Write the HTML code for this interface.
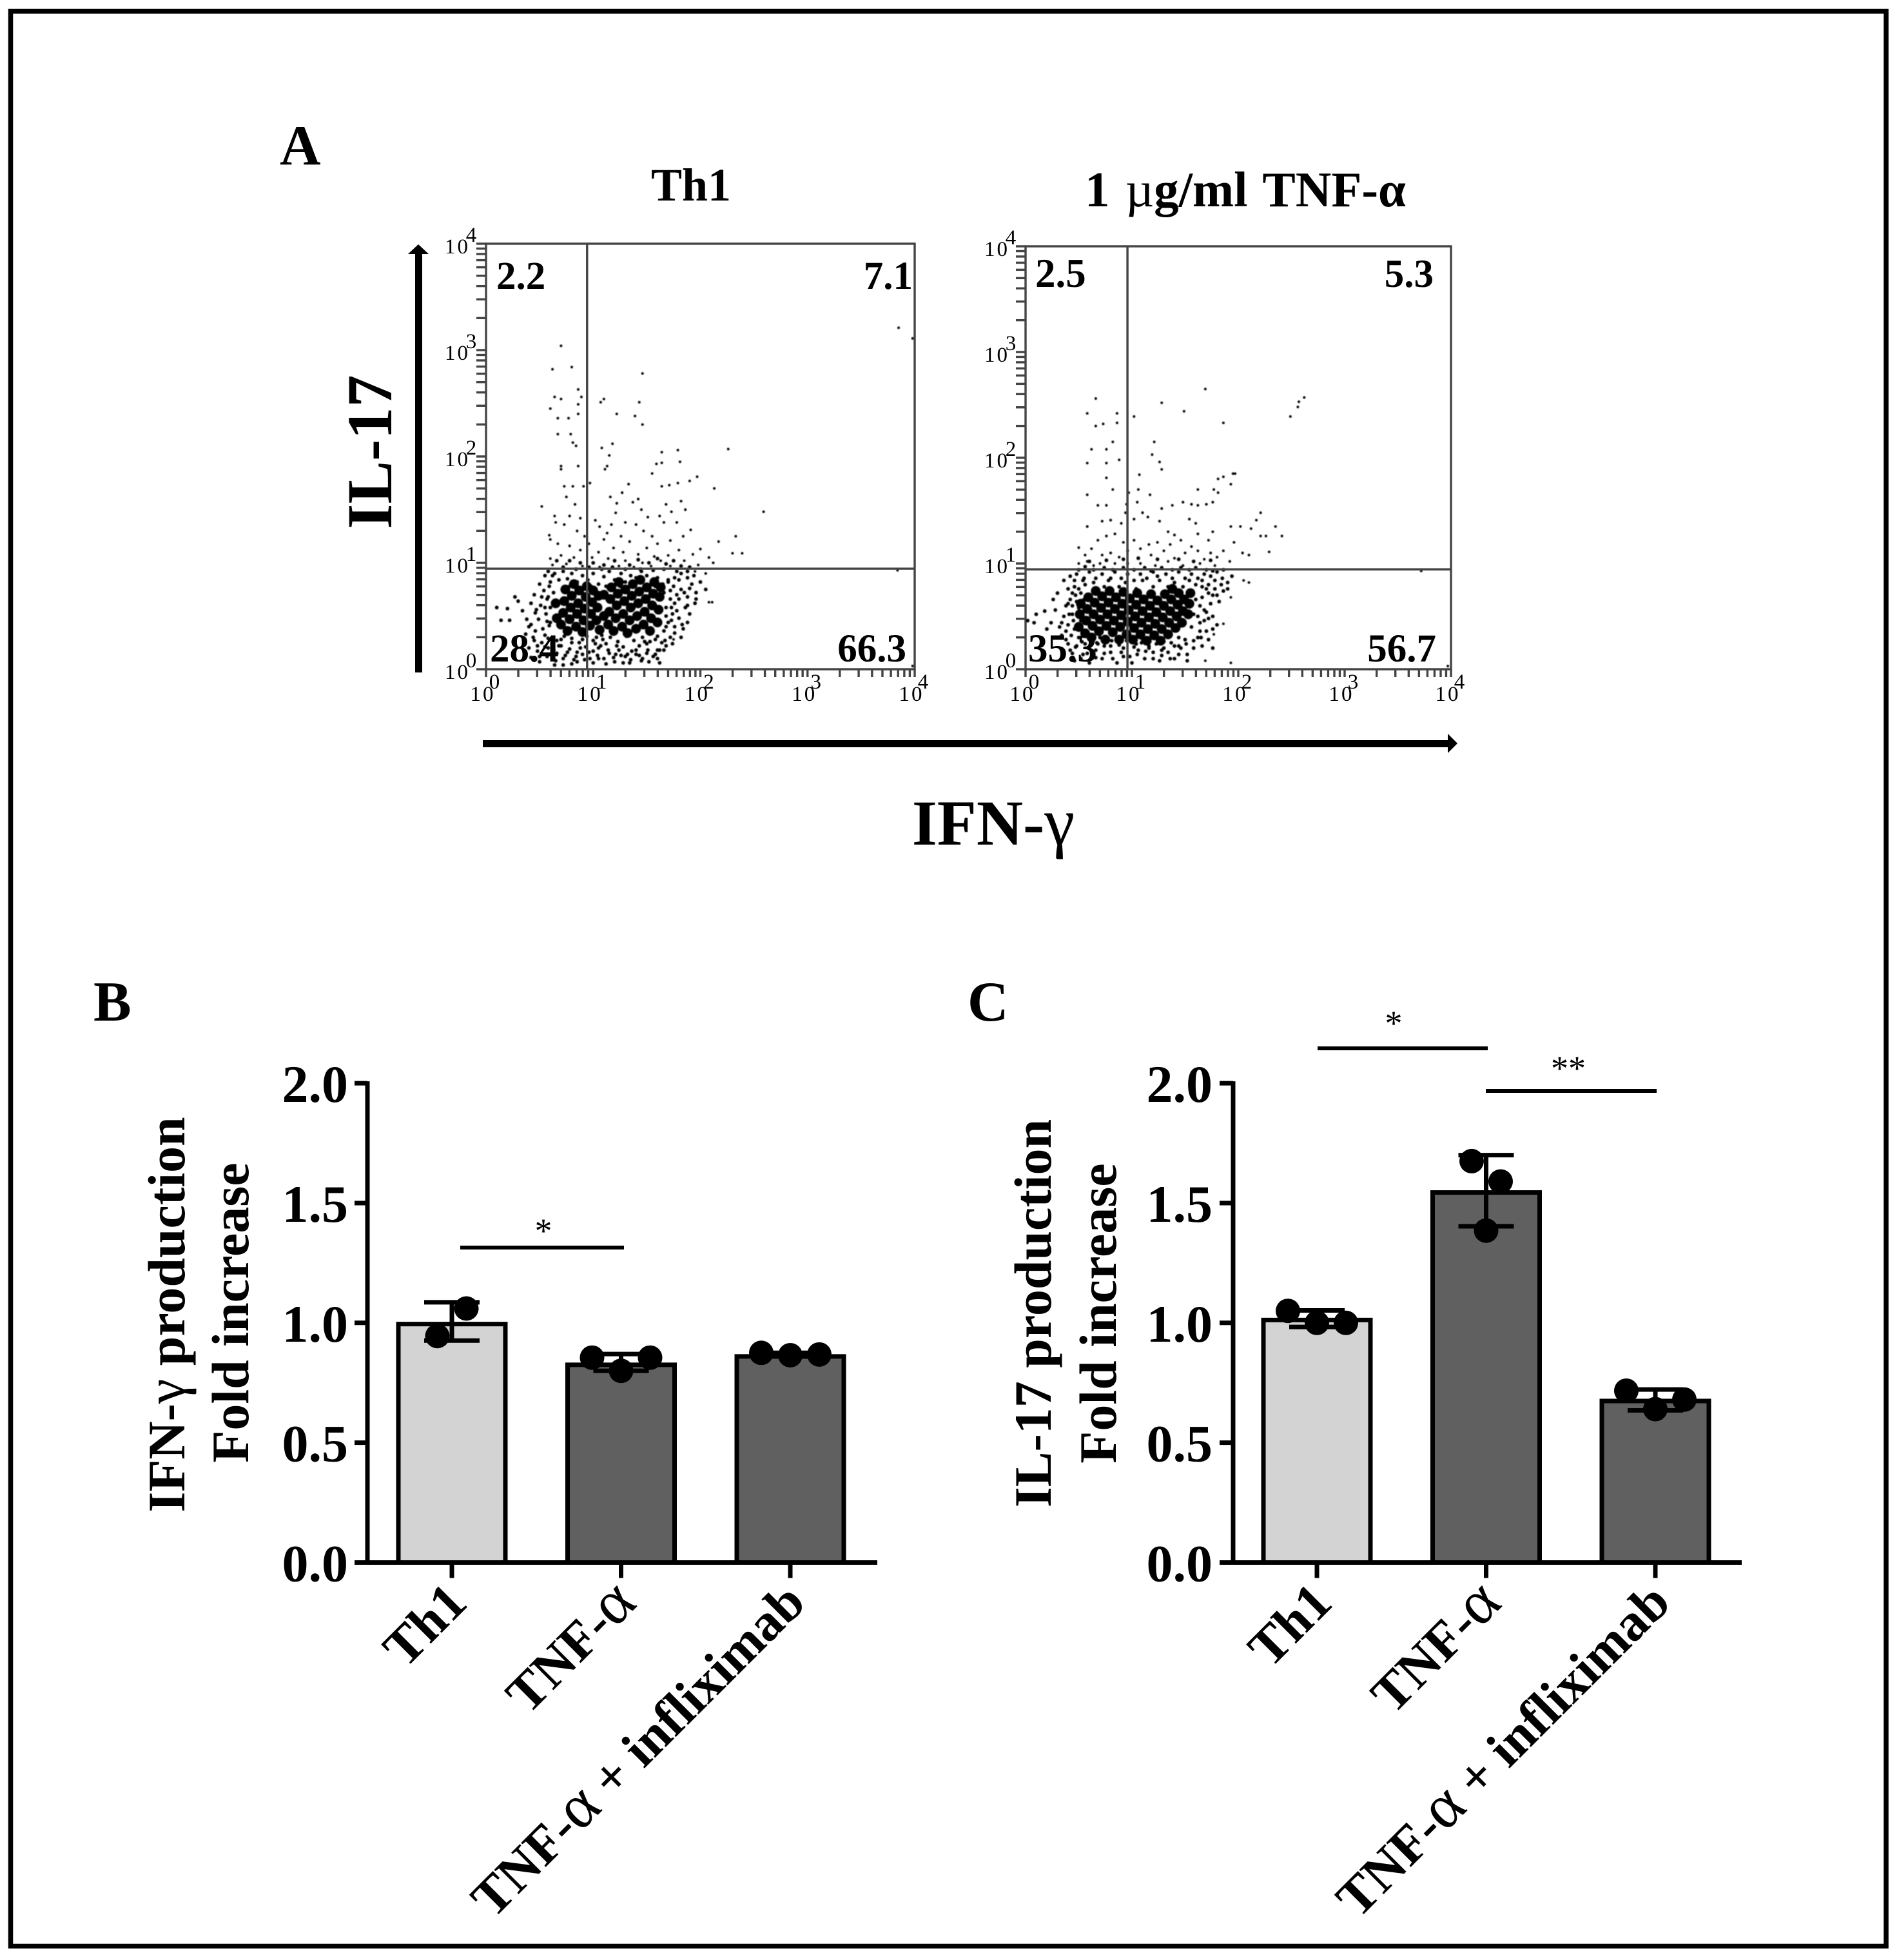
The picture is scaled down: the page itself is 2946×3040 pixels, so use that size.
<!DOCTYPE html>
<html lang="en">
<head>
<meta charset="utf-8">
<title>IFN-γ and IL-17 production in Th1 cells with TNF-α</title>
<style>
html,body{margin:0;padding:0;background:#fff;}
svg{display:block;}
text{font-family:"Liberation Serif",serif;fill:#000;}
.b{font-weight:bold;}
.g{font-weight:normal;font-size:1.2em;}
.h{font-weight:normal;font-size:1.06em;}
</style>
</head>
<body>
<svg id="figure" xmlns="http://www.w3.org/2000/svg" width="2946" height="3040" viewBox="0 0 2946 3040">
<defs><filter id="soft" x="-5%" y="-5%" width="110%" height="110%"><feGaussianBlur stdDeviation="0.7"/></filter></defs>
<rect x="0" y="0" width="2946" height="3040" fill="#fff"/>
<rect x="16.5" y="17.5" width="2909.5" height="3001" fill="none" stroke="#000" stroke-width="7.5"/>

<text class="b" x="434" y="255" font-size="88">A</text>
<text class="b" x="145" y="1583" font-size="88">B</text>
<text class="b" x="1501" y="1583" font-size="88">C</text>

<text class="b" x="1072" y="311" font-size="72" text-anchor="middle">Th1</text>
<text class="b" x="1932" y="320" font-size="77" text-anchor="middle" word-spacing="5">1 <tspan font-weight="normal">µ</tspan>g/ml TNF-α</text>

<text class="b" transform="translate(607,701) rotate(-90)" font-size="100" text-anchor="middle">IL-17</text>
<text class="b" x="1541" y="1310" font-size="100" text-anchor="middle">IFN-<tspan class="h">γ</tspan></text>

<g>
<rect x="644" y="392" width="11" height="651" fill="#000"/>
<polygon points="633,394 649,379 665,394" fill="#000"/>
</g>
<g>
<rect x="749" y="1148" width="1502" height="11" fill="#000"/>
<polygon points="2246,1138 2261,1153 2246,1168" fill="#000"/>
</g>

<g id="flow-th1"></g>
<g id="flow-tnf"></g>

<text class="b" x="770" y="448" font-size="61">2.2</text>
<text class="b" x="1416" y="448" font-size="61" text-anchor="end">7.1</text>
<text class="b" x="760" y="1026" font-size="61">28.4</text>
<text class="b" x="1406" y="1026" font-size="61" text-anchor="end">66.3</text>
<text class="b" x="1606" y="445" font-size="63">2.5</text>
<text class="b" x="2224" y="445" font-size="61" text-anchor="end">5.3</text>
<text class="b" x="1595" y="1026" font-size="61">35.3</text>
<text class="b" x="2228" y="1026" font-size="61" text-anchor="end">56.7</text>

<text class="b" transform="translate(286,2039) rotate(-90)" font-size="82" text-anchor="middle">IFN-<tspan class="h">γ</tspan> production</text>
<text class="b" transform="translate(385,2036) rotate(-90)" font-size="82" text-anchor="middle">Fold increase</text>
<text class="b" transform="translate(1630,2037) rotate(-90)" font-size="82" text-anchor="middle">IL-17 production</text>
<text class="b" transform="translate(1731,2037) rotate(-90)" font-size="82" text-anchor="middle">Fold increase</text>

<g id="chart-b"></g>
<g id="chart-c"></g>
</svg>

<script>
/* ---------- Bar chart data ---------- */
const categories = ['Th1', 'TNF-α', 'TNF-α + infliximab'];
const yTickValues = [0, 0.5, 1, 1.5, 2];
const yTickLabels = ['0.0', '0.5', '1.0', '1.5', '2.0'];

const ifnMeans = [0.995, 0.825, 0.86];
const ifnErrorHigh = [1.086, 0.87, 0.875];
const ifnErrorLow = [0.926, 0.80, 0.86];
const ifnPoints = [[0.945, 1.06], [0.855, 0.80, 0.855], [0.875, 0.865, 0.868]];

const il17Means = [1.012, 1.544, 0.674];
const il17ErrorHigh = [1.052, 1.70, 0.722];
const il17ErrorLow = [0.983, 1.403, 0.635];
const il17Points = [[1.05, 1.0, 1.0], [1.675, 1.59, 1.385], [0.717, 0.64, 0.68]];

/* ---------- Flow cytometry data: [log10 IFN-γ, log10 IL-17] per event ---------- */
const logDecades = [0, 1, 2, 3, 4];
const th1Gate = [0.943, 0.945];
const tnfGate = [0.958, 0.945];

const th1Sparse = [[.70,3.04],[.62,2.82],[.80,2.84],[.86,2.63],[.64,2.56],[.70,2.54],[.89,2.56],[.86,2.49],[.60,2.45],[.86,2.40],[.67,2.36],[.77,2.36],[.67,2.21],[.79,2.21],[.81,2.13],[.84,2.10],[.70,1.91],[.86,1.91],[.70,1.88],[.73,1.72],[.81,1.72],[.91,1.72],[.97,1.75],[1.46,2.78],[1.10,2.54],[1.07,2.51],[1.43,2.51],[1.22,2.40],[1.39,2.38],[1.46,2.30],[1.18,2.12],[1.08,2.08],[1.15,2.01],[1.13,1.91],[1.11,1.88],[1.64,2.04],[1.79,2.06],[1.81,1.95],[1.64,1.94],[1.59,1.93],[2.26,2.07],[1.55,1.84],[1.97,1.81],[1.90,1.77],[1.79,1.75],[1.71,1.73],[1.64,1.72],[2.13,1.70],[2.59,1.48],[2.33,1.25],[2.39,1.09],[2.30,1.09],[2.17,1.20],[3.85,3.21],[3.98,3.11],[.52,1.53],[.64,1.44],[.65,1.38],[.59,1.26],[.60,1.22],[2.08,.63],[2.11,.63],[1.75,.28],[3.84,.93],[3.98,.03]];
const th1Upper = [[.75,1.62],[.83,1.55],[.88,1.42],[.78,1.44],[.73,1.36],[.85,1.30],[.92,1.25],[.67,1.18],[.78,1.16],[.88,1.12],[.96,1.18],[1.02,1.40],[1.06,1.34],[1.10,1.22],[1.13,1.28],[1.17,1.36],[1.16,1.62],[1.22,1.56],[1.27,1.66],[1.33,1.74],[1.21,1.47],[1.30,1.38],[1.37,1.57],[1.42,1.60],[1.45,1.50],[1.51,1.43],[1.40,1.36],[1.47,1.30],[1.55,1.25],[1.62,1.44],[1.66,1.38],[1.68,1.55],[1.73,1.48],[1.82,1.58],[1.86,1.50],[1.78,1.38],[1.84,1.25],[1.91,1.31],[1.72,1.21],[1.60,1.18],[1.50,1.14],[1.34,1.20],[1.26,1.25],[1.19,1.14],[1.05,1.10],[1.28,1.10],[1.42,1.08],[1.57,1.06],[1.70,1.07],[1.80,1.12],[1.93,1.08],[2.00,1.13],[2.08,1.05],[2.12,1.00],[1.98,.98],[1.85,1.02],[1.63,1.02],[1.46,1.00],[1.30,1.02],[1.14,1.04],[.99,1.05],[.82,1.05],[.70,1.07],[.60,1.04],[.62,.98],[.75,.99],[.90,.97],[1.06,.96],[1.24,.97],[1.38,.96],[1.54,.97],[1.72,.97],[1.95,.92],[2.05,.90]];
const th1Halo = [[.10,.58],[.20,.57],[.14,.46],[.27,.68],[.30,.64],[.22,.46],[.34,.55],[.38,.47],[.40,.40],[.42,.62],[.45,.70],[.37,.33],[.44,.30],[.48,.22],[.50,.12],[.46,.53],[.50,.80],[.55,.88],[.52,.68],[.55,.58],[.57,.45],[.55,.32],[.58,.20],[.62,.10],[.64,.04],[.60,.82],[.64,.90],[.68,.84],[.72,.92],[.76,.85],[.80,.90],[.85,.82],[.90,.88],[.95,.84],[1.00,.90],[1.05,.80],[1.10,.87],[1.15,.92],[1.20,.84],[1.26,.90],[1.30,.82],[1.35,.88],[1.40,.86],[1.45,.92],[1.50,.88],[1.55,.82],[1.60,.86],[1.65,.80],[1.70,.84],[1.75,.78],[1.78,.70],[1.72,.66],[1.68,.58],[1.74,.52],[1.70,.44],[1.66,.36],[1.72,.30],[1.64,.25],[1.60,.18],[1.56,.12],[1.62,.06],[1.50,.15],[1.45,.08],[1.40,.14],[1.34,.06],[1.30,.12],[1.24,.18],[1.20,.07],[1.15,.15],[1.10,.10],[1.05,.20],[1.00,.06],[.96,.16],[.92,.09],[.88,.20],[.84,.12],[.80,.05],[.76,.16],[.72,.10],[.68,.22],[.66,.15],[.70,.28],[.80,.25],[.90,.28],[1.00,.27],[1.08,.32],[1.12,.24],[1.22,.22],[1.32,.14],[1.40,.18],[1.50,.24],[1.58,.28],[1.68,.50],[1.76,.62],[1.82,.75],[1.88,.68],[1.92,.80],[1.96,.72],[1.86,.58],[1.80,.48],[1.76,.40],[1.84,.38],[1.90,.52],[1.95,.62],[2.00,.82],[2.05,.75],[.58,.68],[.60,.58],[.63,.72],[.60,.44],[.62,.24],[1.04,.72],[1.06,.38],[1.03,.30],[.98,.78],[.90,.76],[.78,.78],[1.12,.78],[1.25,.78],[1.38,.80],[1.48,.26],[1.62,.18],[1.68,.22],[1.58,.78],[1.66,.72],[1.72,.74],[1.80,.84],[1.88,.86],[1.94,.88],[1.46,.10],[1.28,.06],[1.05,.10],[.85,.07],[.72,.04]];
const th1Extra = [[.45,.27],[.52,.25],[.58,.29],[.66,.27],[.73,.31],[.80,.29],[.87,.25],[.94,.31],[1.02,.24],[1.09,.28],[1.16,.30],[1.23,.26],[1.31,.31],[1.38,.27],[1.46,.30],[1.53,.26],[1.60,.31],[1.67,.27],[1.74,.24],[.40,.20],[.48,.17],[.55,.21],[.63,.18],[.70,.22],[.78,.19],[.85,.16],[.93,.21],[1.0,.17],[1.07,.22],[1.14,.18],[1.21,.14],[1.28,.21],[1.36,.17],[1.43,.22],[1.51,.18],[1.58,.14],[1.66,.18],[.42,.11],[.50,.07],[.57,.12],[.65,.08],[.74,.13],[.82,.09],[.90,.14],[.97,.10],[1.04,.13],[1.12,.05],[1.19,.11],[1.26,.13],[1.35,.09],[1.43,.13],[1.52,.07],[1.60,.10],[.42,.42],[.46,.36],[.49,.47],[.53,.38],[.56,.52],[.59,.41],[.47,.56],[.51,.60],[.57,.66],[.54,.74],[.59,.78],[.62,.88],[.58,.92],[1.68,.40],[1.73,.46],[1.78,.55],[1.83,.42],[1.88,.60],[1.73,.58],[1.80,.66],[1.85,.72],[1.70,.82],[1.76,.86],[1.82,.90],[1.90,.76],[1.96,.66],[1.76,.34],[1.82,.30],[1.88,.44],[.66,1.02],[.78,1.02],[.88,1.0],[1.0,1.0],[1.1,.98],[1.2,1.02],[1.34,.98],[1.42,1.03],[1.52,1.0],[1.6,1.04],[1.68,.99],[1.75,1.02],[1.82,.97],[1.9,.96],[.72,.96],[.84,.94],[.96,.96],[1.08,.94],[1.18,.96],[1.3,.94],[1.44,.94],[1.56,.93],[1.66,.94],[1.78,.92],[1.88,.92]];
const th1Core = [[.70,.42],[.72,.53],[.73,.64],[.74,.75],[.76,.36],[.78,.47],[.79,.58],[.80,.69],[.82,.80],[.84,.40],[.85,.52],[.86,.62],[.87,.74],[.90,.35],[.91,.46],[.92,.57],[.93,.68],[.94,.78],[.97,.41],[.98,.52],[.99,.63],[1.0,.74],[1.03,.46],[1.04,.58],[1.05,.69],[1.06,.37],[1.14,.42],[1.15,.54],[1.16,.66],[1.17,.77],[1.19,.36],[1.21,.48],[1.22,.60],[1.23,.71],[1.24,.82],[1.27,.40],[1.28,.52],[1.29,.64],[1.30,.75],[1.32,.34],[1.34,.46],[1.35,.58],[1.36,.69],[1.37,.80],[1.40,.38],[1.41,.50],[1.42,.62],[1.43,.73],[1.44,.84],[1.47,.42],[1.48,.54],[1.49,.66],[1.50,.77],[1.53,.36],[1.54,.48],[1.55,.60],[1.56,.71],[1.57,.82],[1.60,.44],[1.61,.56],[1.62,.68],[1.63,.77],[.66,.48],[.65,.62],[1.1,.50],[1.1,.70]];

const tnfSparse = [[.66,2.56],[.58,2.42],[.86,2.42],[.86,2.33],[.66,2.30],[.73,2.32],[1.02,2.39],[1.28,2.52],[1.49,2.44],[1.69,2.65],[1.86,2.33],[2.49,2.39],[2.57,2.53],[2.62,2.57],[2.56,2.48],[.82,2.15],[.62,2.08],[.76,2.08],[.58,1.95],[.76,1.95],[.88,1.98],[1.21,2.15],[1.19,2.03],[1.26,1.96],[1.28,1.89],[1.07,1.84],[.76,1.81],[.82,1.70],[.58,1.65],[.97,1.67],[1.06,1.70],[1.17,1.65],[1.62,1.70],[1.77,1.70],[1.81,1.67],[1.81,1.80],[1.86,1.82],[1.95,1.85],[1.97,1.85],[1.93,1.75],[2.21,1.48],[2.17,1.41],[2.35,1.35],[2.41,1.26],[2.29,1.11],[2.26,1.26],[2.21,1.26],[2.12,1.33],[2.02,1.35],[1.93,1.35],[2.05,.84],[2.10,.82],[1.93,.68],[1.93,.06],[1.69,.08],[1.86,.43],[1.77,.33],[3.97,.03],[3.72,.93]];
const tnfUpper = [[.68,1.55],[.76,1.55],[.95,1.56],[1.05,1.58],[1.38,1.55],[1.48,1.58],[1.56,1.56],[1.62,1.55],[1.70,1.56],[1.76,1.58],[.72,1.40],[.80,1.41],[.90,1.38],[.58,1.35],[.94,1.48],[1.02,1.42],[1.10,1.48],[1.15,1.44],[1.26,1.40],[1.28,1.52],[1.34,1.30],[1.40,1.27],[1.46,1.22],[1.54,1.42],[1.60,1.38],[1.62,1.28],[1.72,1.22],[1.76,1.30],[.68,1.22],[.76,1.26],[.84,1.28],[.92,1.20],[.50,1.15],[.56,1.08],[.62,1.14],[.72,1.08],[.80,1.10],[.88,1.06],[.96,1.12],[1.02,1.22],[1.08,1.14],[1.16,1.18],[1.18,1.08],[1.24,1.20],[1.30,1.12],[1.36,1.18],[1.40,1.05],[1.50,1.10],[1.56,1.16],[1.62,1.12],[1.68,1.04],[1.74,1.10],[1.80,1.06],[1.86,1.12],[1.96,1.20],[2.04,1.10],[2.10,1.08],[1.92,1.02],[1.78,.98],[1.64,1.00],[1.48,.98],[1.34,1.02],[1.22,.98],[1.08,1.00],[.96,1.00],[.84,1.00],[.70,1.00],[.58,1.02],[.50,1.00],[.64,.98]];
const tnfHalo = [[.02,.46],[.08,.44],[.10,.52],[.18,.55],[.20,.38],[.24,.44],[.26,.66],[.30,.72],[.28,.56],[.32,.40],[.36,.50],[.34,.32],[.38,.28],[.40,.62],[.42,.18],[.44,.72],[.46,.08],[.48,.22],[.36,.84],[.42,.88],[.48,.90],[.54,.84],[.60,.92],[.66,.86],[.72,.90],[.78,.84],[.84,.92],[.90,.86],[.96,.90],[1.02,.84],[1.08,.90],[1.14,.86],[1.20,.92],[1.26,.84],[1.32,.90],[1.38,.86],[1.44,.92],[1.50,.86],[1.56,.90],[1.62,.86],[1.68,.90],[1.74,.88],[1.80,.92],[1.85,.86],[1.78,.76],[1.72,.72],[1.66,.78],[1.60,.80],[1.74,.62],[1.70,.54],[1.76,.50],[1.64,.44],[1.70,.36],[1.62,.30],[1.66,.22],[1.58,.20],[1.52,.14],[1.46,.20],[1.40,.10],[1.34,.16],[1.26,.08],[1.20,.16],[1.12,.10],[1.06,.18],[1.00,.06],[.92,.12],[.86,.06],[.80,.16],[.72,.10],[.66,.18],[.60,.06],[.54,.14],[.56,.24],[.50,.30],[.46,.38],[.44,.52],[.48,.64],[.46,.78],[.52,.72],[.56,.80],[.64,.76],[.74,.78],[.88,.78],[1.04,.76],[1.20,.78],[1.34,.78],[1.48,.78],[1.56,.72],[1.60,.66],[1.64,.60],[1.58,.52],[1.56,.40],[1.50,.28],[1.40,.22],[1.28,.18],[1.16,.22],[1.04,.24],[.92,.20],[.80,.22],[.68,.24],[.62,.28],[.70,.30],[.90,.30],[1.10,.28],[1.30,.26],[1.44,.30],[1.80,.70],[1.86,.74],[1.90,.82],[1.94,.88],[1.68,.46],[1.72,.28],[1.76,.20],[1.80,.42],[.40,.42],[.38,.60],[.52,.46],[.50,.58],[.55,.66]];
const tnfExtra = [[.40,.24],[.47,.21],[.53,.26],[.60,.20],[.67,.25],[.74,.22],[.81,.27],[.88,.23],[.95,.27],[1.02,.21],[1.09,.25],[1.16,.20],[1.23,.24],[1.30,.20],[1.37,.25],[1.44,.22],[1.51,.24],[1.58,.27],[1.65,.30],[.44,.15],[.52,.10],[.58,.15],[.66,.11],[.74,.15],[.82,.10],[.90,.16],[.98,.12],[1.05,.14],[1.13,.17],[1.20,.10],[1.28,.13],[1.36,.10],[1.44,.14],[1.52,.08],[.34,.44],[.38,.36],[.41,.52],[.43,.32],[.45,.46],[.42,.66],[.47,.70],[.44,.60],[.40,.76],[.50,.76],[.46,.84],[.55,.86],[.64,.82],[.80,.86],[.94,.82],[1.10,.84],[1.24,.88],[1.40,.82],[1.54,.84],[1.66,.84],[1.72,.80],[1.78,.84],[1.84,.80],[1.90,.76],[1.62,.50],[1.68,.56],[1.72,.48],[1.66,.68],[1.70,.76],[1.76,.70],[1.82,.64],[1.64,.36],[1.76,.38],[.50,.94],[.56,.97],[.64,.94],[.74,.96],[.82,.94],[.92,.96],[1.02,.94],[1.12,.96],[1.18,.93],[1.28,.96],[1.38,.94],[1.46,.96],[1.54,.94],[1.60,.96],[1.70,.94],[1.76,.93],[1.86,.94],[.60,1.02],[.76,1.03],[.92,1.04],[1.06,1.05],[1.24,1.04],[1.44,1.04],[1.58,1.02],[1.74,1.03]];
const tnfCore = [[.50,.40],[.51,.52],[.52,.62],[.56,.34],[.57,.46],[.58,.57],[.59,.68],[.62,.30],[.63,.41],[.64,.52],[.65,.63],[.66,.74],[.69,.36],[.70,.47],[.71,.58],[.72,.69],[.75,.28],[.76,.41],[.77,.52],[.78,.63],[.79,.74],[.82,.35],[.83,.46],[.84,.57],[.85,.68],[.88,.28],[.89,.40],[.90,.51],[.91,.62],[.92,.73],[.95,.33],[.96,.45],[.97,.56],[.98,.67],[1.01,.28],[1.02,.39],[1.03,.50],[1.04,.61],[1.05,.72],[1.08,.33],[1.09,.44],[1.10,.55],[1.11,.66],[1.14,.27],[1.15,.38],[1.16,.49],[1.17,.60],[1.18,.71],[1.21,.32],[1.22,.43],[1.23,.54],[1.24,.65],[1.27,.27],[1.28,.38],[1.29,.49],[1.30,.60],[1.31,.71],[1.34,.33],[1.35,.44],[1.36,.55],[1.37,.66],[1.38,.76],[1.41,.39],[1.42,.50],[1.43,.61],[1.44,.72],[1.47,.44],[1.48,.55],[1.49,.66],[1.53,.52],[1.54,.62],[1.55,.72]];

/* ---------- Helpers ---------- */
const SVGNS = 'http://www.w3.org/2000/svg';
function make(tag, parent, attrs) {
  const el = document.createElementNS(SVGNS, tag);
  for (const k in attrs) el.setAttribute(k, attrs[k]);
  parent.appendChild(el);
  return el;
}
function fillGreek(textEl, label) {
  label.split('α').forEach((part, i) => {
    if (i > 0) {
      const sp = make('tspan', textEl, {class: 'g'});
      sp.textContent = 'α';
    }
    textEl.appendChild(document.createTextNode(part));
  });
}

/* ---------- Flow plot ---------- */
function drawFlow(rootId, left, right, top, bottom, gateXLog, gateYLog, sparse, upper, halo, extra, core) {
  const root = document.getElementById(rootId);
  const xOf = d => left + (right - left) * d / 4;
  const yOf = d => bottom - (bottom - top) * d / 4;

  const ticks = make('g', root, {stroke: '#444', 'stroke-width': 3.4});
  
  
  logDecades.forEach(dec => {
    const mults = dec < 4 ? [1,2,3,4,5,6,7,8,9] : [1];
    mults.forEach(m => {
      const d = dec + Math.log10(m);
      const tx = make('line', ticks, {x1: xOf(d), x2: xOf(d), y1: bottom, y2: bottom + 12});
      
      
      const ty = make('line', ticks, {x1: left, x2: left - 15, y1: yOf(d), y2: yOf(d)});
      
      
    });
  });

  const frame = make('rect', root, {x: left, y: top, width: right - left, height: bottom - top, fill: 'none', stroke: '#444', 'stroke-width': 3.4});
  
  

  const dots = make('g', root, {fill: '#000', filter: 'url(#soft)'});
  
  
  const plot = (list, r) => list.forEach(p => {
    const c = make('circle', dots, {cx: xOf(p[0]), cy: yOf(p[1]), r: r});
    
    
  });
  plot(sparse, 2);
  plot(upper, 2.1);
  plot(halo, 2.9);
  plot(extra, 2.9);
  plot(core, 7.6);

  const vGate = make('line', root, {x1: xOf(gateXLog), x2: xOf(gateXLog), y1: top, y2: bottom, stroke: '#444', 'stroke-width': 3.4});
  
  
  const hGate = make('line', root, {x1: left, x2: right, y1: yOf(gateYLog), y2: yOf(gateYLog), stroke: '#444', 'stroke-width': 3.4});
  
  

  logDecades.forEach(dec => {
    const xl = make('text', root, {x: xOf(dec) - 5, y: bottom + 49, 'font-size': 33, 'letter-spacing': 3, 'text-anchor': 'middle', fill: '#222'});
    xl.textContent = '10';
    
    
    const xs = make('text', root, {x: xOf(dec) + 13, y: bottom + 30, 'font-size': 33, 'text-anchor': 'middle', fill: '#222'});
    xs.textContent = String(dec);
    
    
    const yl = make('text', root, {x: left - 25, y: yOf(dec) + 15, 'font-size': 33, 'letter-spacing': 3, 'text-anchor': 'end', fill: '#222'});
    yl.textContent = '10';
    
    
    const ys = make('text', root, {x: left - 23, y: yOf(dec) - 3, 'font-size': 33, 'text-anchor': 'middle', fill: '#222'});
    ys.textContent = String(dec);
    
    
  });
}

/* ---------- Bar chart ---------- */
function drawBars(rootId, axisX, tickLeft, axisEnd, firstCenter, step, labelRight, means, high, low, points) {
  const root = document.getElementById(rootId);
  const yOf = v => 2423.5 - 371.7 * v;
  const xOf = i => firstCenter + step * i;
  const barW = 166;
  const fills = ['#d3d3d3', '#606060', '#606060'];

  means.forEach((m, i) => {
    const bar = make('rect', root, {x: xOf(i) - barW / 2, y: yOf(m), width: barW, height: yOf(0) - yOf(m), fill: fills[i], stroke: '#000', 'stroke-width': 7});
    
    
  });

  const axisY = make('line', root, {x1: axisX, x2: axisX, y1: yOf(2) - 3, y2: yOf(0), stroke: '#000', 'stroke-width': 7});
  
  
  const axisXLine = make('line', root, {x1: tickLeft, x2: axisEnd, y1: yOf(0), y2: yOf(0), stroke: '#000', 'stroke-width': 7});
  
  

  yTickValues.forEach((v, i) => {
    const t = make('line', root, {x1: tickLeft, x2: axisX, y1: yOf(v), y2: yOf(v), stroke: '#000', 'stroke-width': 7});
    
    
    const lab = make('text', root, {x: labelRight, y: yOf(v) + 29, 'font-size': 82, 'font-weight': 'bold', 'text-anchor': 'end'});
    lab.textContent = yTickLabels[i];
    
    
  });

  categories.forEach((name, i) => {
    const t = make('line', root, {x1: xOf(i), x2: xOf(i), y1: yOf(0), y2: yOf(0) + 24, stroke: '#000', 'stroke-width': 7});
    
    
    const lab = make('text', root, {transform: 'translate(' + (xOf(i) + 27) + ',' + (yOf(0) + 66) + ') rotate(-45)', 'font-size': 82, 'font-weight': 'bold', 'text-anchor': 'end'});
    fillGreek(lab, name);
    
    
  });

  means.forEach((m, i) => {
    const cx = xOf(i);
    const capHalf = 43;
    const stem = make('line', root, {x1: cx, x2: cx, y1: yOf(high[i]), y2: yOf(low[i]), stroke: '#000', 'stroke-width': 7});
    
    
    [high[i], low[i]].forEach(v => {
      const cap = make('line', root, {x1: cx - capHalf, x2: cx + capHalf, y1: yOf(v), y2: yOf(v), stroke: '#000', 'stroke-width': 7});
      
      
    });

    /* neighbouring values spread sideways, isolated values stay centred */
    const groups = [];
    points[i].forEach(v => {
      const g = groups[groups.length - 1];
      if (g && Math.abs(g[g.length - 1] - v) < 0.12) g.push(v); else groups.push([v]);
    });
    groups.forEach(g => g.forEach((v, j) => {
      const dot = make('circle', root, {cx: cx + (j - (g.length - 1) / 2) * 45, cy: yOf(v), r: 19, fill: '#000'});
      
      
    }));
  });
}

function sigBar(rootId, x1, x2, y, stars, starX, starY) {
  const root = document.getElementById(rootId);
  const line = make('line', root, {x1: x1, x2: x2, y1: y, y2: y, stroke: '#000', 'stroke-width': 6});
  
  
  const t = make('text', root, {x: starX, y: starY + 25, 'font-size': 54, 'text-anchor': 'middle'});
  t.textContent = stars;
  
  
}

drawFlow('flow-th1', 754, 1419, 378, 1038, th1Gate[0], th1Gate[1], th1Sparse, th1Upper, th1Halo, th1Extra, th1Core);
drawFlow('flow-tnf', 1591, 2251, 382, 1038, tnfGate[0], tnfGate[1], tnfSparse, tnfUpper, tnfHalo, tnfExtra, tnfCore);
drawBars('chart-b', 570, 550, 1361, 701, 262.5, 540, ifnMeans, ifnErrorHigh, ifnErrorLow, ifnPoints);
drawBars('chart-c', 1913, 1892, 2702, 2043, 262.5, 1881, il17Means, il17ErrorHigh, il17ErrorLow, il17Points);
sigBar('chart-b', 714, 968, 1935, '*', 843, 1902);
sigBar('chart-c', 2044, 2308, 1626, '*', 2162, 1580);
sigBar('chart-c', 2305, 2570, 1692, '**', 2433, 1650);
</script>
</body>
</html>
